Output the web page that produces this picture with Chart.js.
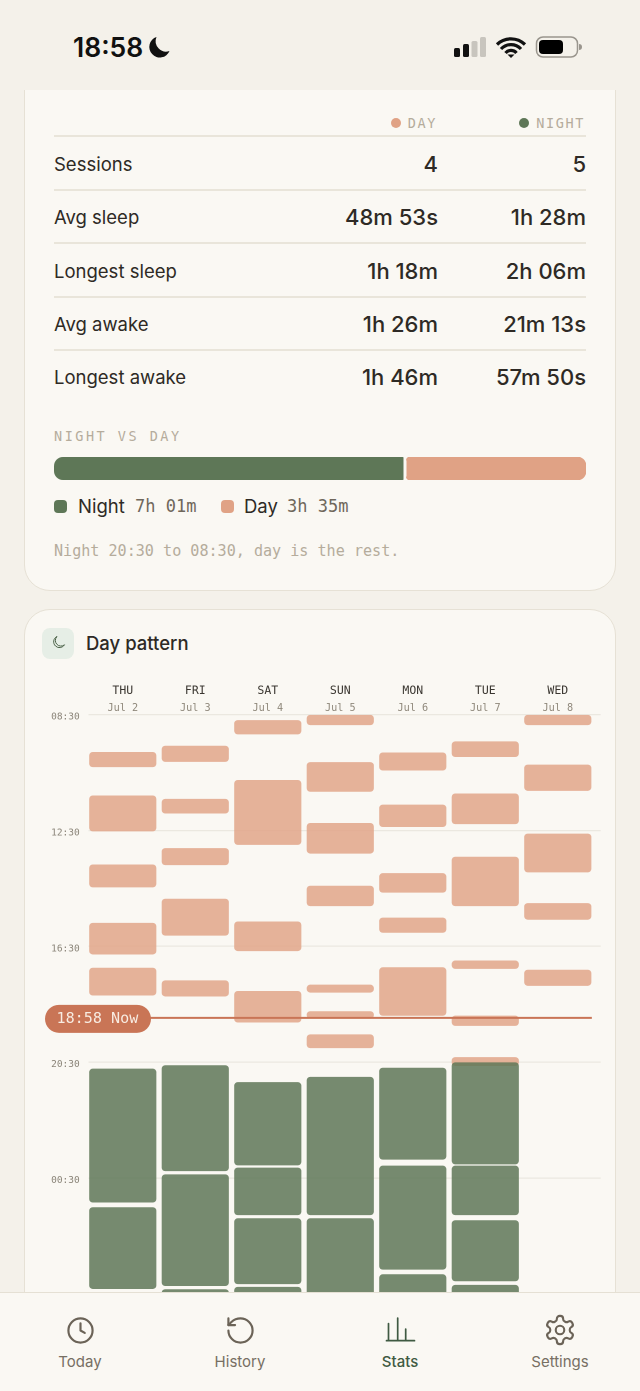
<!DOCTYPE html>
<html>
<head>
<meta charset="utf-8">
<title>Day pattern</title>
<script src="https://cdn.jsdelivr.net/npm/chart.js@4"></script>
<style>
  * { box-sizing: border-box; }
  html, body { margin: 0; padding: 0; }
  body { width: 640px; height: 1391px; overflow: hidden; position: relative; background: #f4f1ea;
         font-family: Inter, "Noto Sans", sans-serif; color: #2e2a25; }
  .abs { position: absolute; white-space: nowrap; line-height: 1; }
  .mono { font-family: "DejaVu Sans Mono", monospace; }
  .card { position: absolute; left: 24px; width: 592px; background: #faf8f3; border: 1.5px solid #e6e1d5; border-radius: 26px; }
  .rule { position: absolute; left: 54px; width: 532px; height: 2px; background: #e9e5da; }
  .row-label { position: absolute; left: 54px; font-size: 18.5px; line-height: 24px; white-space: nowrap; }
  .row-val { position: absolute; font-size: 22px; font-weight: 500; line-height: 24px; text-align: right; white-space: nowrap; }
  .tab { position: absolute; top: 1354px; width: 160px; text-align: center; font-size: 15px; line-height: 16px; color: #776f63; }
  svg { position: absolute; overflow: visible; }
</style>
</head>
<body>

<div class="card" style="top:40px;height:551px"></div>
<div class="card" style="top:609px;height:760px"></div>

<div class="abs mono" style="right:203px;top:117px;font-size:13.5px;letter-spacing:1.600px;color:#b5ac9c">DAY</div>
<div class="abs" style="left:391px;top:118px;width:10px;height:10px;border-radius:50%;background:#e0a285"></div>
<div class="abs mono" style="right:55px;top:117px;font-size:13.5px;letter-spacing:1.600px;color:#b5ac9c">NIGHT</div>
<div class="abs" style="left:519px;top:118px;width:10px;height:10px;border-radius:50%;background:#5e7757"></div>
<div class="rule" style="top:135px"></div>
<div id="rows"></div>

<div class="abs mono" style="left:54px;top:430px;font-size:13.5px;letter-spacing:2.500px;color:#b5ac9c">NIGHT VS DAY</div>
<canvas id="splitChart" class="abs" style="left:54px;top:457px"></canvas>

<div class="abs" style="left:54px;top:500px;width:13px;height:13px;border-radius:4px;background:#5e7757"></div>
<div class="abs" style="left:78px;top:497px;font-size:18.5px">Night</div>
<div class="abs mono" style="left:135px;top:498px;font-size:17px;color:#6f675b">7h 01m</div>
<div class="abs" style="left:221px;top:500px;width:13px;height:13px;border-radius:4px;background:#e0a285"></div>
<div class="abs" style="left:244px;top:497px;font-size:18.5px">Day</div>
<div class="abs mono" style="left:287px;top:498px;font-size:17px;color:#6f675b">3h 35m</div>
<div class="abs mono" style="left:54px;top:544px;font-size:15.100px;color:#b5ac9c">Night 20:30 to 08:30, day is the rest.</div>

<div class="abs" style="left:42px;top:628px;width:32px;height:31px;border-radius:8px;background:#e6eee6"></div>
<svg style="left:52px;top:635px" width="14" height="14" viewBox="0 0 14 14"><path d="M5 1.500a5.600 5.600 0 0 0 7.500 8.300A5.800 5.800 0 0 1 3.500 11 5.800 5.800 0 0 1 5 1.500z" fill="none" stroke="#4c6349" stroke-width="1"/></svg>
<div class="abs" style="left:86px;top:634px;font-size:18.5px;font-weight:500">Day pattern</div>

<canvas id="patternChart" class="abs" style="left:0;top:680px"></canvas>

<!-- status bar -->
<div class="abs" style="left:0;top:0;width:640px;height:90px;background:#f4f1ea"></div>
<div class="abs" style="left:73px;top:34px;font-size:26.5px;font-weight:600;color:#111">18:58</div>
<svg style="left:148px;top:36px" width="22" height="22" viewBox="0 0 22 22"><path d="M8.500 1a10.500 10.500 0 0 0 13 14A10.500 10.500 0 1 1 8.500 1z" fill="#111"/></svg>
<svg style="left:454px;top:36px" width="125" height="22" viewBox="0 0 125 22">
  <rect x="0" y="12" width="6" height="9" rx="1.500" fill="#111"/>
  <rect x="9" y="8" width="6" height="13" rx="1.500" fill="#111"/>
  <rect x="17.500" y="5" width="6" height="16" rx="1.500" fill="#c8c5be"/>
  <rect x="26" y="1" width="6" height="20" rx="1.500" fill="#c8c5be"/>
  <path d="M43 8.500a20 20 0 0 1 28 0M47 13a13.500 13.500 0 0 1 20 0M51.500 17a7 7 0 0 1 11 0" fill="none" stroke="#111" stroke-width="3.200"/>
  <path d="M53.500 18.500h7L57 22z" fill="#111"/>
  <rect x="82.500" y="1" width="41" height="20" rx="6.500" fill="none" stroke="#99958d" stroke-width="1.500"/>
  <rect x="85" y="4" width="24" height="14" rx="4" fill="#000"/>
  <path d="M125 8v6a3 3 0 0 0 0-6z" fill="#99958d"/>
</svg>

<!-- tab bar -->
<div class="abs" style="left:0;top:1292px;width:640px;height:99px;background:#faf8f3;border-top:1.5px solid #e5e0d4"></div>
<svg style="left:65.500px;top:1315.500px" width="29" height="29" viewBox="0 0 24 24" fill="none" stroke="#6b6357" stroke-width="1.800" stroke-linecap="round" stroke-linejoin="round"><circle cx="12" cy="12" r="10"/><path d="M12 6v6l3.500 2"/></svg>
<svg style="left:225.500px;top:1315.500px" width="29" height="29" viewBox="0 0 24 24" fill="none" stroke="#6b6357" stroke-width="1.800" stroke-linecap="round" stroke-linejoin="round"><path d="M2 12a10 10 0 1 0 10-10 10.800 10.800 0 0 0-7.500 3L2 7.500"/><path d="M2 2v5.500h5.500"/></svg>
<svg style="left:384px;top:1314px" width="32" height="32" viewBox="0 0 32 32" fill="none" stroke="#3f5a42" stroke-width="1.700" stroke-linecap="round"><path d="M2.500 26.700h28M4.500 9.500v17M13.700 4v22.700M21.700 15v11.700"/></svg>
<svg style="left:543px;top:1313px" width="34" height="34" viewBox="0 0 24 24" fill="none" stroke="#6b6357" stroke-width="1.500" stroke-linecap="round" stroke-linejoin="round"><path d="M12.220 2h-.44a2 2 0 0 0-2 2v.18a2 2 0 0 1-1 1.730l-.43.25a2 2 0 0 1-2 0l-.15-.08a2 2 0 0 0-2.730.73l-.22.38a2 2 0 0 0 .73 2.730l.15.1a2 2 0 0 1 1 1.720v.51a2 2 0 0 1-1 1.740l-.15.09a2 2 0 0 0-.73 2.730l.22.38a2 2 0 0 0 2.730.73l.15-.08a2 2 0 0 1 2 0l.43.25a2 2 0 0 1 1 1.730V20a2 2 0 0 0 2 2h.44a2 2 0 0 0 2-2v-.18a2 2 0 0 1 1-1.730l.43-.25a2 2 0 0 1 2 0l.15.08a2 2 0 0 0 2.730-.73l.22-.39a2 2 0 0 0-.73-2.730l-.15-.08a2 2 0 0 1-1-1.740v-.5a2 2 0 0 1 1-1.740l.15-.09a2 2 0 0 0 .73-2.730l-.22-.38a2 2 0 0 0-2.730-.73l-.15.08a2 2 0 0 1-2 0l-.43-.25a2 2 0 0 1-1-1.730V4a2 2 0 0 0-2-2z"/><circle cx="12" cy="12" r="3"/></svg>
<div class="tab" style="left:0">Today</div>
<div class="tab" style="left:160px">History</div>
<div class="tab" style="left:320px;color:#3f5a42;font-weight:500">Stats</div>
<div class="tab" style="left:480px">Settings</div>

<script>
// stats table
var rowNames = ['Sessions', 'Avg sleep', 'Longest sleep', 'Avg awake', 'Longest awake'];
var rowDay = ['4', '48m 53s', '1h 18m', '1h 26m', '1h 46m'];
var rowNight = ['5', '1h 28m', '2h 06m', '21m 13s', '57m 50s'];

// total sleep in minutes (7h 01m, 3h 35m)
var nightTotal = 421;
var dayTotal = 215;

var days = ['THU', 'FRI', 'SAT', 'SUN', 'MON', 'TUE', 'WED'];
var dates = ['Jul 2', 'Jul 3', 'Jul 4', 'Jul 5', 'Jul 6', 'Jul 7', 'Jul 8'];
var hourTicks = ['08:30', '12:30', '16:30', '20:30', '00:30'];

// sessions per column, minutes after 08:30
var daySessions = [
  [[78, 108], [168, 241], [311, 357], [432, 496], [525, 581]],
  [[65, 97], [175, 204], [277, 311], [382, 457], [551, 583]],
  [[12, 40], [136, 269], [429, 489], [573, 637]],
  [[1, 21], [99, 159], [225, 287], [355, 396], [560, 575], [615, 629], [663, 690]],
  [[79, 115], [187, 232], [329, 368], [421, 451], [524, 623]],
  [[56, 87], [164, 226], [295, 396], [510, 526], [624, 644], [710, 727]],
  [[1, 21], [104, 157], [247, 326], [391, 424], [529, 561]]
];
var nightSessions = [
  [[734, 1010], [1021, 1189]],
  [[727, 945], [953, 1183], [1191, 1290]],
  [[762, 933], [939, 1036], [1044, 1179], [1186, 1290]],
  [[751, 1036], [1044, 1290]],
  [[732, 921], [935, 1149], [1160, 1290]],
  [[721, 931], [935, 1036], [1048, 1173], [1182, 1290]],
  []
];
var nowMinutes = 628; // 18:58
var nowLabel = '18:58 Now';

var rowTops = [152, 205, 258.500, 311.500, 365];
var ruleTops = [189, 242, 296, 349];
var rowsHtml = '';
rowNames.forEach(function(name, i) {
  rowsHtml += '<div class="row-label" style="top:' + rowTops[i] + 'px">' + name + '</div>';
  rowsHtml += '<div class="row-val" style="right:202px;top:' + rowTops[i] + 'px">' + rowDay[i] + '</div>';
  rowsHtml += '<div class="row-val" style="right:54px;top:' + rowTops[i] + 'px">' + rowNight[i] + '</div>';
  if (i < ruleTops.length) {
    rowsHtml += '<div class="rule" style="top:' + ruleTops[i] + 'px"></div>';
  }
});
document.getElementById('rows').innerHTML = rowsHtml;

Chart.defaults.animation = false;
Chart.defaults.devicePixelRatio = 2;

function toBars(sessions) {
  var out = [];
  sessions.forEach(function(list, col) {
    list.forEach(function(s) {
      out.push({ x: col, y: s });
    });
  });
  return out;
}

// night vs day split
var splitCanvas = document.getElementById('splitChart');
splitCanvas.width = 532;
splitCanvas.height = 23;
new Chart(splitCanvas, {
  type: 'bar',
  data: {
    labels: ['split'],
    datasets: [
      {
        label: 'Night', data: [nightTotal], backgroundColor: '#5e7757', borderColor: '#faf8f3',
        borderWidth: { right: 3 }, borderSkipped: false,
        borderRadius: { topLeft: 9, bottomLeft: 9, topRight: 4, bottomRight: 4 }
      },
      {
        label: 'Day', data: [dayTotal], backgroundColor: '#e0a285', borderWidth: 0, borderSkipped: false,
        borderRadius: { topLeft: 4, bottomLeft: 4, topRight: 9, bottomRight: 9 }
      }
    ]
  },
  options: {
    indexAxis: 'y',
    responsive: false,
    layout: { autoPadding: false },
    barPercentage: 1,
    categoryPercentage: 1,
    plugins: { legend: { display: false }, tooltip: { enabled: false } },
    scales: {
      x: { display: false, stacked: true, min: 0, max: nightTotal + dayTotal },
      y: { display: false, stacked: true }
    }
  }
});

// pill on the left end of the "now" line
var nowPill = {
  id: 'nowPill',
  afterDatasetsDraw: function(chart) {
    var ctx = chart.ctx;
    var y = chart.scales.y.getPixelForValue(nowMinutes);
    ctx.save();
    ctx.fillStyle = '#c97556';
    ctx.beginPath();
    ctx.roundRect(45, y - 13, 106, 28, 14);
    ctx.fill();
    ctx.fillStyle = '#f8ece2';
    ctx.font = '15.100px "DejaVu Sans Mono", monospace';
    ctx.textBaseline = 'middle';
    ctx.fillText(nowLabel, 56.500, y + 1);
    ctx.restore();
  }
};

function dayColumnTicks(scale) {
  scale.ticks = days.map(function(d, i) { return { value: i }; });
}
function hourRowTicks(scale) {
  scale.ticks = hourTicks.map(function(h, i) { return { value: i * 240 }; });
}
// the tick labels must not shrink the plot area
function noTickPadding(scale) {
  scale.paddingLeft = scale.paddingRight = scale.paddingTop = scale.paddingBottom = 0;
}

var monoFont = '"DejaVu Sans Mono", monospace';
var patternCanvas = document.getElementById('patternChart');
patternCanvas.width = 640;
patternCanvas.height = 612;
new Chart(patternCanvas, {
  type: 'bar',
  data: {
    datasets: [
      {
        type: 'line', label: 'Now', data: [{ x: -0.47, y: nowMinutes }, { x: 6.47, y: nowMinutes }],
        borderColor: '#c97556', borderWidth: 2, pointRadius: 0
      },
      {
        label: 'Night', data: toBars(nightSessions), backgroundColor: 'rgba(94,119,87,0.85)',
        barThickness: 66.500, borderRadius: 3.500, borderSkipped: false
      },
      {
        label: 'Day', data: toBars(daySessions), backgroundColor: 'rgba(224,162,133,0.82)',
        barThickness: 66.500, borderRadius: 3.500, borderSkipped: false
      }
    ]
  },
  plugins: [nowPill],
  options: {
    responsive: false,
    grouped: false,
    layout: { autoPadding: false, padding: { right: 39.300 } },
    plugins: { legend: { display: false }, tooltip: { enabled: false } },
    scales: {
      x: {
        type: 'linear', position: 'top', min: -0.47, max: 6.592, weight: 0, bounds: 'data', offset: false,
        afterBuildTicks: dayColumnTicks,
        afterFit: function(scale) { scale.height = 16.700; noTickPadding(scale); },
        grid: { display: false, drawTicks: false }, border: { display: false },
        ticks: {
          autoSkip: false, maxRotation: 0, padding: 0,
          color: '#8f887b', font: { family: monoFont, size: 10.200 },
          callback: function(v) { return dates[v]; }
        }
      },
      x2: {
        type: 'linear', position: 'top', min: -0.47, max: 6.592, weight: 1, bounds: 'data', offset: false,
        afterBuildTicks: dayColumnTicks,
        afterFit: function(scale) { scale.height = 18; noTickPadding(scale); },
        grid: { display: false, drawTicks: false }, border: { display: false },
        ticks: {
          autoSkip: false, maxRotation: 0, padding: 0,
          color: '#3a3630', font: { family: monoFont, size: 11.500 },
          callback: function(v) { return days[v]; }
        }
      },
      y: {
        reverse: true, min: 0, max: 1196, bounds: 'data',
        afterBuildTicks: hourRowTicks,
        afterFit: function(scale) { scale.width = 88.700; noTickPadding(scale); },
        border: { display: false },
        grid: { color: '#ebe8e0', lineWidth: 1.300, drawTicks: false },
        ticks: {
          autoSkip: false, padding: 9, labelOffset: 2.500,
          color: '#8a8478', font: { family: monoFont, size: 9.500 },
          callback: function(v) { return hourTicks[v / 240]; }
        }
      }
    }
  }
});
</script>
</body>
</html>
